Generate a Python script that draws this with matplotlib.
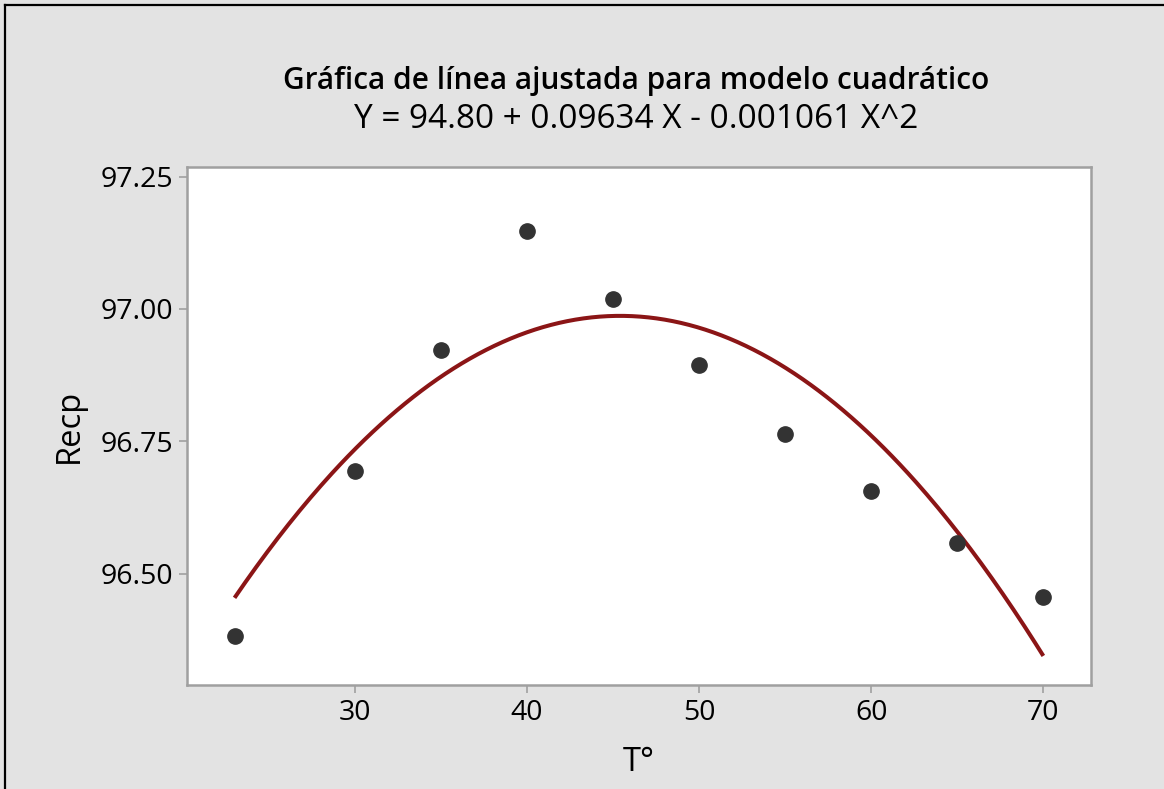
import matplotlib
matplotlib.use("Agg")
import matplotlib.pyplot as plt
from matplotlib.lines import Line2D
import numpy as np

# data
temp = [23, 30, 35, 40, 45, 50, 55, 60, 65, 70]
recp = [96.383, 96.694, 96.922, 97.148, 97.019, 96.895, 96.763, 96.657, 96.558, 96.457]
coef = [94.80, 0.09634, -0.001061]   # Y = b0 + b1 X + b2 X^2
x_ticks = [30, 40, 50, 60, 70]
y_ticks = [96.50, 96.75, 97.00, 97.25]

title = "Gráfica de línea ajustada para modelo cuadrático"
subtitle = "Y = 94.80 + 0.09634 X - 0.001061 X^2"

plt.rcParams['font.family'] = ['Open Sans', 'DejaVu Sans']

W, H = 1164, 789
fig = plt.figure(figsize=(W / 100, H / 100), dpi=100)
fig.patch.set_facecolor("#e3e3e3")

ax = fig.add_axes([186.7 / W, 1 - 685 / H, (1091 - 186.7) / W, (685 - 167) / H])
ax.set_facecolor("white")

xx = np.linspace(min(temp), max(temp), 300)
yy = coef[0] + coef[1] * xx + coef[2] * xx ** 2
ax.plot(xx, yy, color="#8b1516", linewidth=2.9, solid_capstyle="butt", zorder=2)
ax.plot(temp, recp, "o", color="#333333", markersize=11, zorder=3)

ax.set_xlim(20.22, 72.77)
ax.set_ylim(96.29, 97.268)
ax.set_xticks(x_ticks)
ax.set_yticks(y_ticks)
ax.set_yticklabels(["%.2f" % v for v in y_ticks])

for s in ax.spines.values():
    s.set_color("#a0a0a0")
    s.set_linewidth(1.8)
ax.tick_params(axis="both", colors="#a0a0a0", labelcolor="black", length=6,
               width=1.2, labelsize=20.5, pad=4)

ax.set_ylabel("Recp", fontsize=23.5, labelpad=10)
ax.set_xlabel("T°", fontsize=23.5, labelpad=14)

cx = 636 / W
fig.text(cx, 1 - 89 / H, title, ha="center", va="baseline",
         fontsize=21.5, fontweight="semibold")
fig.text(cx, 1 - 128 / H, subtitle, ha="center", va="baseline", fontsize=24)

# outer frame (only top and left visible in the screenshot)
fig.add_artist(Line2D([5 / W, 5 / W], [0, 1 - 5 / H], color="black", linewidth=1.6))
fig.add_artist(Line2D([5 / W, 1], [1 - 5 / H, 1 - 5 / H], color="black", linewidth=1.6))

fig.savefig("out.png", dpi=100, facecolor=fig.get_facecolor())
